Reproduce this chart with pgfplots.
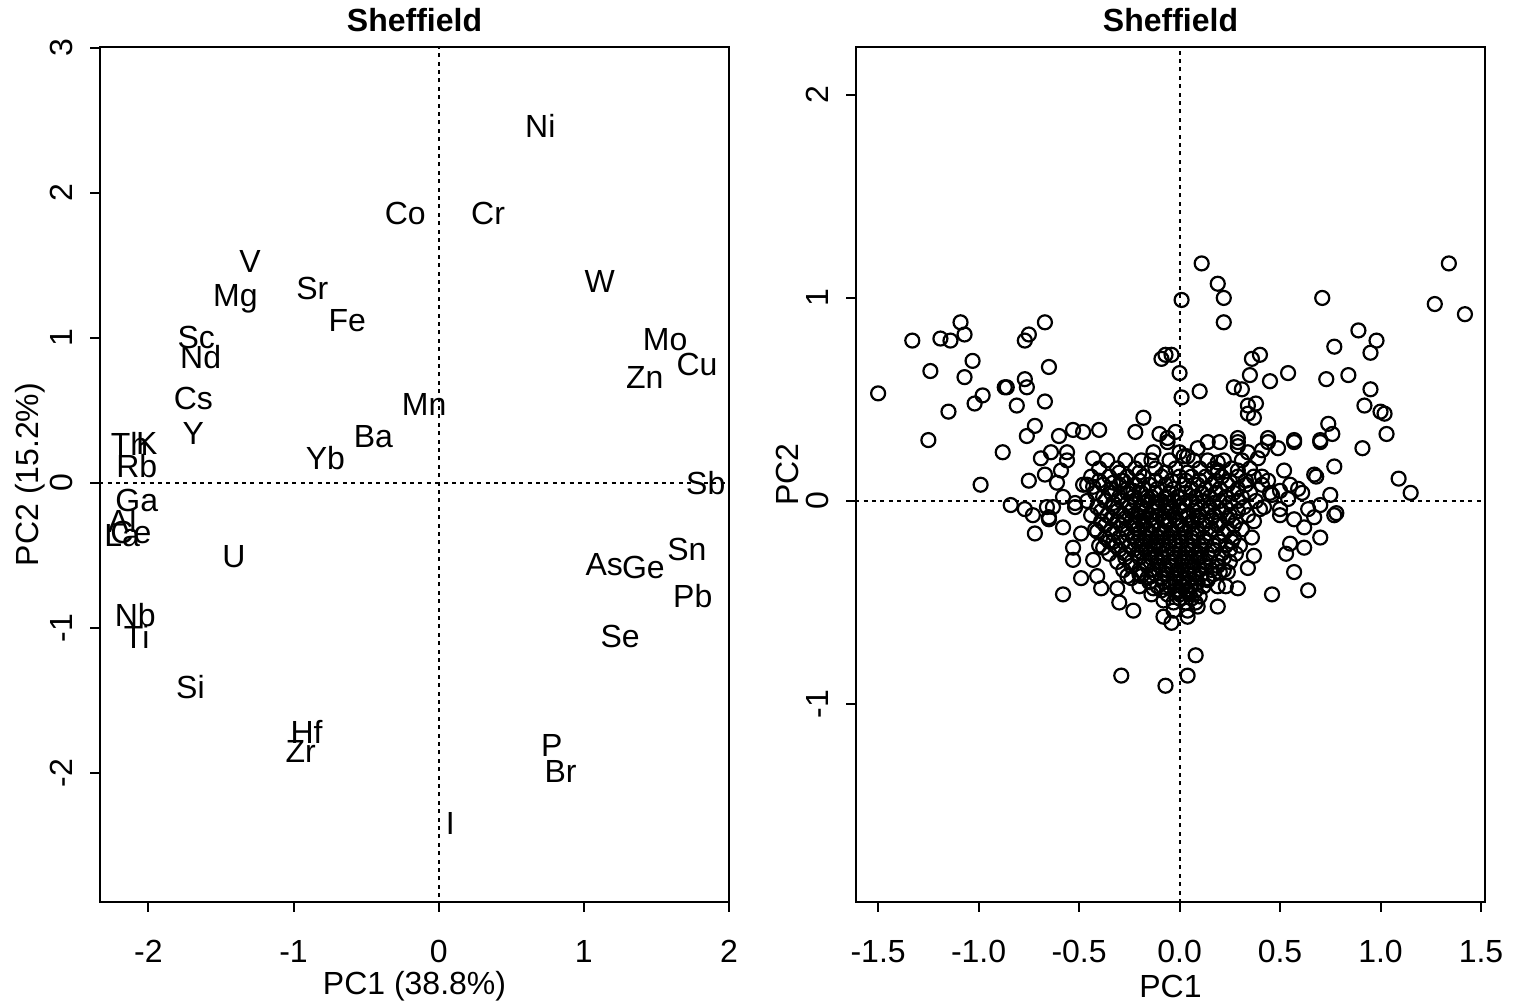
\documentclass[border=0pt]{standalone}
\usepackage{pgfplots}
\pgfplotsset{compat=1.18}
\usepackage{pgfplotstable}
\usepackage{fontspec}
\setmainfont{Liberation Sans}

\pgfplotstableread{
x y lab
0.70 2.46 Ni
-0.23 1.86 Co
0.34 1.86 Cr
-1.30 1.53 V
-0.87 1.34 Sr
-1.40 1.27 Mg
-0.63 1.12 Fe
1.11 1.39 W
1.56 0.99 Mo
1.78 0.82 Cu
1.42 0.73 Zn
-1.67 1.00 Sc
-1.64 0.87 Nd
-1.69 0.58 Cs
-0.10 0.54 Mn
-0.45 0.32 Ba
-1.69 0.34 Y
-0.78 0.17 Yb
-2.13 0.27 Th
-2.01 0.27 K
-2.08 0.12 Rb
1.84 0.00 Sb
-2.08 -0.12 Ga
-2.18 -0.26 Al
-2.12 -0.34 Ce
-2.18 -0.36 La
-1.41 -0.51 U
1.71 -0.46 Sn
1.14 -0.56 As
1.41 -0.58 Ge
1.75 -0.78 Pb
1.25 -1.06 Se
-2.09 -0.91 Nb
-2.08 -1.06 Ti
-1.71 -1.41 Si
-0.91 -1.72 Hf
-0.95 -1.85 Zr
0.78 -1.81 P
0.84 -1.99 Br
0.08 -2.35 I
}\loadings

\pgfplotstableread{
x y
0.11 1.17
1.34 1.17
0.19 1.07
0.22 1.00
0.01 0.99
0.22 0.88
0.71 1.00
1.27 0.97
1.42 0.92
0.89 0.84
0.98 0.79
0.77 0.76
0.95 0.73
-0.04 0.72
0.40 0.72
0.36 0.70
0.00 0.63
0.35 0.62
0.54 0.63
0.45 0.59
0.73 0.60
0.84 0.62
0.10 0.54
0.27 0.56
0.31 0.55
0.01 0.51
0.34 0.47
0.38 0.48
0.37 0.41
0.34 0.43
0.95 0.55
0.92 0.47
1.00 0.44
1.02 0.43
0.74 0.38
0.29 0.31
0.44 0.31
0.57 0.30
0.70 0.30
0.76 0.33
1.03 0.33
0.91 0.26
0.77 0.17
0.67 0.13
0.68 0.12
0.52 0.15
1.09 0.11
1.15 0.04
0.75 0.03
0.70 -0.02
0.78 -0.06
0.57 0.29
0.70 0.29
0.49 0.26
0.44 0.29
0.41 0.25
0.39 0.21
0.34 0.24
0.29 0.29
0.29 0.27
0.20 0.29
0.14 0.29
0.09 0.26
0.02 0.22
0.19 0.19
0.19 0.15
0.29 0.15
0.41 0.12
0.44 0.10
0.55 0.08
0.59 0.06
0.61 0.04
0.50 0.05
0.46 0.03
0.54 0.01
0.64 -0.04
0.50 -0.04
0.40 -0.04
0.50 -0.07
0.57 -0.09
0.62 -0.13
0.70 -0.18
0.77 -0.07
0.67 -0.08
0.55 -0.21
0.62 -0.23
0.53 -0.26
0.57 -0.35
0.64 -0.44
0.46 -0.46
0.19 -0.52
0.09 -0.52
0.29 -0.43
0.34 -0.33
0.37 -0.27
0.24 -0.35
0.20 -0.35
0.23 -0.42
0.19 -0.42
0.14 -0.39
0.10 -0.47
0.04 -0.45
0.04 -0.54
-0.04 -0.60
-0.08 -0.57
0.04 -0.57
0.08 -0.76
0.04 -0.86
-0.07 -0.91
-0.29 -0.86
-1.09 0.88
-1.33 0.79
-1.19 0.80
-1.14 0.79
-1.07 0.82
-0.67 0.88
-0.75 0.82
-0.77 0.79
-0.09 0.70
-0.07 0.72
-1.03 0.69
-1.24 0.64
-1.07 0.61
-0.65 0.66
-0.86 0.56
-0.87 0.56
-0.77 0.60
-0.76 0.56
-1.50 0.53
-0.98 0.52
-1.02 0.48
-1.15 0.44
-0.81 0.47
-0.67 0.49
-0.72 0.37
-0.76 0.32
-0.60 0.32
-0.53 0.35
-0.48 0.34
-0.40 0.35
-0.22 0.34
-0.18 0.41
-0.10 0.33
-0.06 0.31
-0.02 0.34
-0.06 0.29
-1.25 0.30
-0.88 0.24
-0.69 0.21
-0.64 0.24
-0.56 0.24
-0.56 0.20
-0.59 0.15
-0.43 0.21
-0.67 0.13
-0.75 0.10
-0.61 0.09
-0.46 0.08
-0.99 0.08
-0.84 -0.02
-0.77 -0.04
-0.73 -0.07
-0.66 -0.03
-0.58 0.02
-0.52 -0.01
-0.65 -0.08
-0.63 -0.03
-0.52 -0.03
-0.19 0.20
-0.13 0.24
0.00 0.24
0.04 0.22
-0.33 0.09
-0.29 0.10
-0.43 0.07
-0.23 0.05
-0.65 -0.09
-0.58 -0.13
-0.49 -0.16
-0.41 -0.15
-0.72 -0.16
-0.53 -0.23
-0.53 -0.29
-0.43 -0.29
-0.38 -0.23
-0.33 -0.20
-0.49 -0.38
-0.41 -0.37
-0.39 -0.43
-0.31 -0.43
-0.30 -0.50
-0.58 -0.46
-0.23 -0.54
-0.26 -0.37
-0.19 -0.37
-0.14 -0.37
-0.13 -0.43
-0.08 -0.49
-0.03 -0.54
-0.01 -0.45
-0.36 0.20
-0.27 0.20
-0.14 0.20
-0.05 0.20
0.07 0.20
0.14 0.20
0.22 0.20
0.31 0.20
-0.40 0.16
-0.31 0.16
-0.22 0.16
-0.12 0.16
-0.02 0.16
0.10 0.16
0.17 0.16
0.26 0.16
0.35 0.16
-0.44 0.12
-0.35 0.12
-0.26 0.12
-0.18 0.12
-0.09 0.12
0.00 0.12
0.06 0.12
0.13 0.12
0.21 0.12
0.29 0.12
0.37 0.12
-0.48 0.08
-0.38 0.08
-0.30 0.08
-0.22 0.08
-0.15 0.08
-0.07 0.08
0.02 0.08
0.09 0.08
0.16 0.08
0.24 0.08
0.33 0.08
0.41 0.08
-0.42 0.04
-0.34 0.04
-0.26 0.04
-0.19 0.04
-0.12 0.04
-0.05 0.04
0.03 0.04
0.11 0.04
0.18 0.04
0.27 0.04
0.35 0.04
0.45 0.04
-0.46 0.00
-0.37 0.00
-0.29 0.00
-0.22 0.00
-0.16 0.00
-0.09 0.00
-0.03 0.00
0.05 0.00
0.12 0.00
0.20 0.00
0.29 0.00
0.38 0.00
-0.41 -0.03
-0.33 -0.03
-0.25 -0.03
-0.19 -0.03
-0.13 -0.03
-0.06 -0.03
0.00 -0.03
0.08 -0.03
0.15 -0.03
0.23 -0.03
0.32 -0.03
0.42 -0.03
-0.44 -0.07
-0.36 -0.07
-0.28 -0.07
-0.21 -0.07
-0.15 -0.07
-0.10 -0.07
-0.03 -0.07
0.04 -0.07
0.10 -0.07
0.17 -0.07
0.25 -0.07
0.34 -0.07
-0.39 -0.10
-0.31 -0.10
-0.24 -0.10
-0.18 -0.10
-0.12 -0.10
-0.07 -0.10
-0.01 -0.10
0.06 -0.10
0.13 -0.10
0.20 -0.10
0.28 -0.10
0.37 -0.10
-0.42 -0.14
-0.34 -0.14
-0.27 -0.14
-0.21 -0.14
-0.16 -0.14
-0.10 -0.14
-0.04 -0.14
0.02 -0.14
0.09 -0.14
0.16 -0.14
0.24 -0.14
0.31 -0.14
-0.37 -0.18
-0.30 -0.18
-0.23 -0.18
-0.17 -0.18
-0.11 -0.18
-0.06 -0.18
0.00 -0.18
0.06 -0.18
0.12 -0.18
0.19 -0.18
0.27 -0.18
0.36 -0.18
-0.40 -0.22
-0.32 -0.22
-0.25 -0.22
-0.19 -0.22
-0.13 -0.22
-0.08 -0.22
-0.02 -0.22
0.04 -0.22
0.10 -0.22
0.17 -0.22
0.23 -0.22
0.30 -0.22
-0.35 -0.26
-0.27 -0.26
-0.21 -0.26
-0.15 -0.26
-0.09 -0.26
-0.03 -0.26
0.03 -0.26
0.08 -0.26
0.14 -0.26
0.21 -0.26
0.28 -0.26
-0.31 -0.30
-0.24 -0.30
-0.17 -0.30
-0.11 -0.30
-0.05 -0.30
0.01 -0.30
0.06 -0.30
0.12 -0.30
0.19 -0.30
0.25 -0.30
-0.28 -0.34
-0.20 -0.34
-0.13 -0.34
-0.07 -0.34
-0.01 -0.34
0.04 -0.34
0.10 -0.34
0.16 -0.34
0.22 -0.34
-0.24 -0.38
-0.16 -0.38
-0.09 -0.38
-0.03 -0.38
0.02 -0.38
0.08 -0.38
0.14 -0.38
-0.20 -0.42
-0.11 -0.42
-0.05 -0.42
0.01 -0.42
0.06 -0.42
0.12 -0.42
-0.14 -0.46
-0.06 -0.46
0.00 -0.46
0.05 -0.46
-0.03 -0.50
0.03 -0.50
0.08 -0.50
-0.20 -0.05
-0.14 -0.12
-0.08 -0.16
-0.02 -0.20
0.04 -0.24
-0.18 -0.20
-0.10 -0.22
-0.05 -0.09
0.01 -0.12
-0.22 -0.12
-0.16 0.02
-0.11 -0.01
-0.01 0.02
0.07 -0.16
0.02 -0.28
-0.04 -0.32
0.07 -0.36
-0.12 -0.28
-0.19 -0.25
-0.07 -0.05
0.00 -0.40
0.04 -0.44
-0.02 -0.36
0.10 -0.28
0.13 -0.20
-0.30 0.14
-0.20 0.14
-0.07 0.14
0.04 0.14
0.19 0.14
-0.40 0.10
-0.28 0.10
-0.20 0.10
-0.12 0.10
-0.04 0.10
0.03 0.10
0.10 0.10
0.18 0.10
0.25 0.10
0.33 0.10
-0.34 0.06
-0.26 0.06
-0.18 0.06
-0.11 0.06
-0.03 0.06
0.06 0.06
0.13 0.06
0.20 0.06
0.29 0.06
-0.38 0.02
-0.30 0.02
-0.23 0.02
-0.14 0.02
-0.07 0.02
0.00 0.02
0.08 0.02
0.15 0.02
0.23 0.02
0.31 0.02
-0.33 -0.01
-0.26 -0.01
-0.18 -0.01
-0.12 -0.01
-0.05 -0.01
0.02 -0.01
0.09 -0.01
0.17 -0.01
0.25 -0.01
-0.39 -0.05
-0.31 -0.05
-0.24 -0.05
-0.17 -0.05
-0.12 -0.05
-0.04 -0.05
0.02 -0.05
0.07 -0.05
0.14 -0.05
0.21 -0.05
0.29 -0.05
-0.34 -0.085
-0.27 -0.085
-0.20 -0.085
-0.14 -0.085
-0.08 -0.085
-0.02 -0.085
0.04 -0.085
0.09 -0.085
0.16 -0.085
0.24 -0.085
-0.37 -0.12
-0.29 -0.12
-0.23 -0.12
-0.18 -0.12
-0.13 -0.12
-0.07 -0.12
-0.01 -0.12
0.05 -0.12
0.12 -0.12
0.19 -0.12
0.27 -0.12
-0.33 -0.16
-0.26 -0.16
-0.20 -0.16
-0.14 -0.16
-0.09 -0.16
-0.03 -0.16
0.03 -0.16
0.09 -0.16
0.15 -0.16
0.22 -0.16
-0.35 -0.20
-0.28 -0.20
-0.21 -0.20
-0.15 -0.20
-0.11 -0.20
-0.05 -0.20
0.01 -0.20
0.07 -0.20
0.13 -0.20
0.20 -0.20
0.26 -0.20
-0.30 -0.24
-0.23 -0.24
-0.17 -0.24
-0.12 -0.24
-0.06 -0.24
0.00 -0.24
0.06 -0.24
0.11 -0.24
0.17 -0.24
0.25 -0.24
-0.27 -0.28
-0.20 -0.28
-0.14 -0.28
-0.08 -0.28
-0.02 -0.28
0.04 -0.28
0.09 -0.28
0.15 -0.28
0.22 -0.28
-0.24 -0.32
-0.16 -0.32
-0.10 -0.32
-0.04 -0.32
0.02 -0.32
0.07 -0.32
0.13 -0.32
0.19 -0.32
-0.20 -0.36
-0.12 -0.36
-0.06 -0.36
0.00 -0.36
0.05 -0.36
0.11 -0.36
0.17 -0.36
-0.15 -0.40
-0.08 -0.40
-0.02 -0.40
0.04 -0.40
0.09 -0.40
-0.09 -0.44
-0.02 -0.44
0.03 -0.44
0.08 -0.44
0.00 -0.48
0.06 -0.48
}\scores

\pgfplotsset{
  rstyle/.style={
    scale only axis, width=314.5pt, height=427.5pt,
    axis line style={line width=1pt},
    every tick/.style={line width=1pt, black},
    tick align=outside, major tick length=5pt,
    xtick pos=left, ytick pos=left,
    clip=true,
    tick label style={font=\fontsize{16pt}{19pt}\selectfont},
    label style={font=\fontsize{16pt}{19pt}\selectfont},
    title style={font=\fontsize{16pt}{19pt}\selectfont\bfseries, at={(0.5,1)}, anchor=base, yshift=1.5pt},
    yticklabel style={xshift=-5pt, rotate=90, anchor=south},
    xticklabel style={anchor=north, yshift=-10.5pt},
  },
  refline/.style={black, line width=1pt, dash pattern=on 2pt off 2.2pt},
}

\begin{document}
\begin{tikzpicture}
\useasboundingbox (-50pt,-52pt) rectangle (706.5pt,451pt);
\begin{axis}[rstyle,
  at={(0pt,0pt)}, anchor=south west,
  xmin=-2.333, xmax=2.0, ymin=-2.89, ymax=3.007,
  xtick={-2,-1,0,1,2}, xticklabels={-2,-1,0,1,2},
  ytick={-2,-1,0,1,2,3}, yticklabels={-2,-1,0,1,2,3},
  title={Sheffield},
  xlabel={PC1 (38.8\%)}, ylabel={PC2 (15.2\%)},
  xlabel style={at={(axis description cs:0.5,-0.099)}, anchor=center},
  ylabel style={at={(axis description cs:-0.111,0.5)}, anchor=center},
]
\addplot[refline] coordinates {(0,-5) (0,5)};
\addplot[refline] coordinates {(-5,0) (5,0)};
\addplot[only marks, mark=none, nodes near coords, point meta=explicit symbolic,
  every node near coord/.style={anchor=center, inner sep=0pt, black, font=\fontsize{16pt}{19pt}\selectfont}]
  table[x=x, y=y, meta=lab] {\loadings};
\end{axis}
\begin{axis}[rstyle,
  at={(378pt,0pt)}, anchor=south west,
  xmin=-1.61, xmax=1.52, ymin=-1.975, ymax=2.236,
  xtick={-1.5,-1,-0.5,0,0.5,1,1.5}, xticklabels={-1.5,-1.0,-0.5,0.0,0.5,1.0,1.5},
  ytick={-1,0,1,2}, yticklabels={-1,0,1,2},
  title={Sheffield},
  xlabel={PC1}, ylabel={PC2},
  xlabel style={at={(axis description cs:0.5,-0.099)}, anchor=center},
  ylabel style={at={(axis description cs:-0.1095,0.5)}, anchor=center},
]
\addplot[refline] coordinates {(0,-5) (0,5)};
\addplot[refline] coordinates {(-5,0) (5,0)};
\addplot[only marks, mark=o, mark size=3.5pt, black, mark options={line width=1.1pt}]
  table[x=x, y=y] {\scores};
\end{axis}
\end{tikzpicture}
\end{document}
